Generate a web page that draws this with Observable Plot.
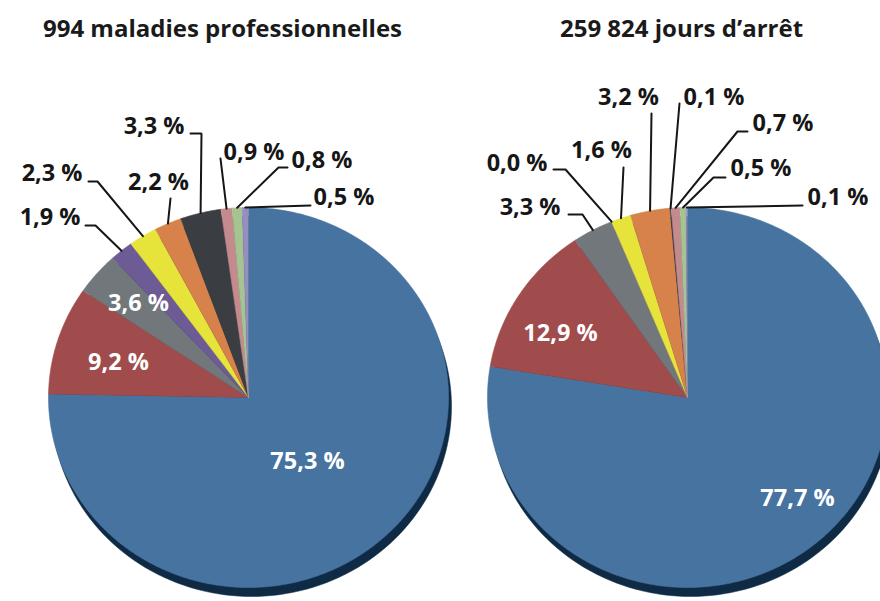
<!DOCTYPE html>
<html>
<head>
<meta charset="utf-8">
<script src="https://cdn.jsdelivr.net/npm/d3@7"></script>
<script src="https://cdn.jsdelivr.net/npm/@observablehq/plot@0.6"></script>
<style>
  html, body { margin: 0; padding: 0; background: #fff; }
  #chart { width: 880px; height: 601px; overflow: hidden; }
</style>
</head>
<body>
<div id="chart"></div>
<script>
// ---------- DATA ----------
const pieTitles = ["994 maladies professionnelles", "259 824 jours d’arrêt"];
const categories = ["c1", "c2", "c3", "c4", "c5", "c6", "c7", "c8", "c9", "c10"];
const maladiesValues = [75.3, 9.2, 3.6, 1.9, 2.3, 2.2, 3.3, 0.9, 0.8, 0.5];
const arretValues    = [77.7, 12.9, 3.3, 0.0, 1.6, 3.2, 0.1, 0.7, 0.5, 0.1];

// ---------- STYLE ----------
const sliceColors = ["#4773a0", "#a04b4c", "#71777a", "#6c5b94", "#e6e33b",
                     "#d6824a", "#3a3e42", "#c48a8d", "#a6c392", "#948fbf"];
const shadowColor = "#0f2a45";
const labelSize = 23.5, titleSize = 24;

// ---------- LAYOUT (pixel offsets from each pie centre) ----------
const PXX = 200, PXY = 190;             // pixels per radius unit (x, y)
const pieCenterX = [0, 439 / PXX];      // pie centres in radius units
const titleLayout = [[-26, -368], [-6, -368]];
const labelLayout = [
  [
    {t: [59, 64],     a: "middle", inside: true},
    {t: [-130, -35],  a: "middle", inside: true},
    {t: [-110, -94],  a: "middle", inside: true},
    {t: [-168, -180], a: "end",    e: [-153, -172], f: [-163, -172]},
    {t: [-166, -224], a: "end",    e: [-151, -216], f: [-160, -216]},
    {t: [-90, -215],  a: "middle", e: [-78, -199],  f: [-78, -199]},
    {t: [-64, -271],  a: "end",    e: [-47, -264],  f: [-58, -264]},
    {t: [-25, -245],  a: "start",  e: [-28, -239],  f: [-28, -239]},
    {t: [43, -237],   a: "start",  e: [30, -230],   f: [39, -230]},
    {t: [65, -200],   a: "start",  e: [62, -192],   f: [62, -192]}
  ],
  [
    {t: [110, 101],   a: "middle", inside: true},
    {t: [-127, -64],  a: "middle", inside: true},
    {t: [-127, -190], a: "end",    e: [-105, -183], f: [-119, -183]},
    {t: [-140, -234], a: "end",    e: [-122, -228], f: [-134, -228]},
    {t: [-86, -247],  a: "middle", e: [-64, -230],  f: [-64, -230]},
    {t: [-59, -300],  a: "middle", e: [-36, -284],  f: [-36, -284]},
    {t: [-4, -300],   a: "start",  e: [-8, -294],   f: [-8, -294]},
    {t: [65, -274],   a: "start",  e: [50, -266],   f: [60, -266]},
    {t: [43, -229],   a: "start",  e: [26, -220],   f: [38, -220]},
    {t: [120, -200],  a: "start",  e: [115, -192],  f: [115, -192]}
  ]
];

// ---------- BUILD ----------
const fmt = v => d3.format(".1f")(v).replace(".", ",") + " %";
const ux = (p, dx) => pieCenterX[p] + dx / PXX;
const uy = dy => -dy / PXY;

const pie = d3.pie().sort(null).value(v => v);
const series = [maladiesValues, arretValues];

const slicePts = [], shadowPts = [], leaderPts = [], labels = [];
series.forEach((vals, p) => {
  const cx = pieCenterX[p];
  // shadow ellipse (slightly offset down/right)
  d3.range(0, 361, 2).forEach(deg => {
    const t = deg * Math.PI / 180;
    shadowPts.push({key: "s" + p, x: cx + 3 / PXX + Math.sin(t), y: -9 / PXY + Math.cos(t)});
  });
  pie(vals).forEach((a, i) => {
    const key = p + "-" + i, cat = categories[i];
    slicePts.push({key, cat, x: cx, y: 0});
    const n = Math.max(2, Math.ceil((a.endAngle - a.startAngle) / 0.01));
    for (let k = 0; k <= n; ++k) {
      const t = a.startAngle + (a.endAngle - a.startAngle) * k / n;
      slicePts.push({key, cat, x: cx + Math.sin(t), y: Math.cos(t)});
    }
    const L = labelLayout[p][i];
    labels.push({x: ux(p, L.t[0]), y: uy(L.t[1]), text: fmt(a.data), a: L.a, inside: !!L.inside});
    if (!L.inside) {
      const m = (a.startAngle + a.endAngle) / 2;
      leaderPts.push({key, x: cx + Math.sin(m), y: Math.cos(m)});
      leaderPts.push({key, x: ux(p, L.e[0]), y: uy(L.e[1])});
      leaderPts.push({key, x: ux(p, L.f[0]), y: uy(L.f[1])});
    }
  });
});
const titles = pieTitles.map((t, p) => ({text: t, x: ux(p, titleLayout[p][0]), y: uy(titleLayout[p][1])}));

const W = 880, H = 601, CX0 = 248, CY = 397;
const textOpts = {x: "x", y: "y", text: "text", fontSize: labelSize, fontWeight: "bold"};
const chart = Plot.plot({
  width: W, height: H, margin: 0,
  style: {fontFamily: "'Open Sans', sans-serif", background: "#fff", overflow: "hidden"},
  x: {domain: [-CX0 / PXX, (W - CX0) / PXX], axis: null},
  y: {domain: [-(H - CY) / PXY, CY / PXY], axis: null},
  color: {type: "ordinal", domain: categories, range: sliceColors},
  marks: [
    Plot.line(shadowPts, {x: "x", y: "y", z: "key", fill: shadowColor, stroke: shadowColor, strokeWidth: 0.5}),
    Plot.line(slicePts, {x: "x", y: "y", z: "key", fill: "cat", stroke: "cat", strokeWidth: 0.6, strokeLinejoin: "round"}),
    Plot.line(leaderPts, {x: "x", y: "y", z: "key", stroke: "#161616", strokeWidth: 2, strokeLinejoin: "miter"}),
    Plot.text(labels, {...textOpts, filter: d => !d.inside && d.a === "start", textAnchor: "start", fill: "#161616"}),
    Plot.text(labels, {...textOpts, filter: d => !d.inside && d.a === "end", textAnchor: "end", fill: "#161616"}),
    Plot.text(labels, {...textOpts, filter: d => !d.inside && d.a === "middle", textAnchor: "middle", fill: "#161616"}),
    Plot.text(labels, {...textOpts, filter: d => d.inside, textAnchor: "middle", fill: "#ffffff"}),
    Plot.text(titles, {x: "x", y: "y", text: "text", textAnchor: "middle", fontSize: titleSize, fontWeight: "bold", fill: "#1a1a1a"})
  ]
});
document.getElementById("chart").appendChild(chart);
</script>
</body>
</html>
